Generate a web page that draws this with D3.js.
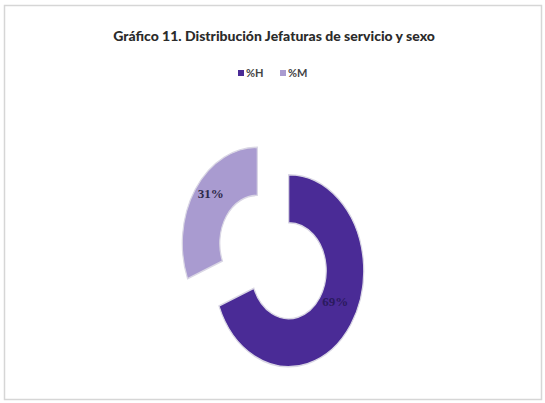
<!DOCTYPE html>
<html>
<head>
<meta charset="utf-8">
<script src="https://cdn.jsdelivr.net/npm/d3@7"></script>
<style>
  html, body { margin: 0; padding: 0; background: #fff; }
  svg { display: block; }
</style>
</head>
<body>
<svg id="chart" width="545" height="403"></svg>
<script>
// Chart data
const categories = ["%H", "%M"];
const values = [69, 31];
const labels = ["69%", "31%"];
const colors = ["#4a2b96", "#a99bd0"];

const title = "Gráfico 11. Distribución Jefaturas de servicio y sexo";

const svg = d3.select("#chart");

// Outer frame
svg.append("rect")
  .attr("x", 4.5).attr("y", 5.5)
  .attr("width", 537).attr("height", 394)
  .attr("fill", "#fff")
  .attr("stroke", "#d6d6d6")
  .attr("stroke-width", 1.5);

// Title
svg.append("text")
  .attr("x", 274).attr("y", 41)
  .attr("text-anchor", "middle")
  .attr("font-family", "Lato, 'Open Sans', sans-serif")
  .attr("font-weight", "900")
  .attr("font-size", 14)
  .attr("fill", "#2b2b2b")
  .text(title);

// Legend
const legend = svg.append("g").attr("transform", "translate(238,73)");
const legendX = [0, 42];
categories.forEach((c, i) => {
  const g = legend.append("g").attr("transform", `translate(${legendX[i]},0)`);
  g.append("rect")
    .attr("x", 0).attr("y", -3).attr("width", 6).attr("height", 6)
    .attr("fill", colors[i]);
  g.append("text")
    .attr("x", 8).attr("y", 4)
    .attr("font-family", "Lato, 'Open Sans', sans-serif")
    .attr("font-weight", "bold")
    .attr("font-size", 11)
    .attr("fill", "#444")
    .text(c);
});

// Exploded doughnut (drawn slightly taller than wide)
const rx = 75, sy = 1.28;
const cx = 273, cy = 257;
const explode = 19;

const pie = d3.pie().sort(null).value(d => d)(values);
const arc = d3.arc().innerRadius(rx * 0.5).outerRadius(rx);

const donut = svg.append("g")
  .attr("transform", `translate(${cx},${cy}) scale(1,${sy})`);

const slices = donut.selectAll("g.slice")
  .data(pie)
  .enter().append("g")
  .attr("class", "slice")
  .attr("transform", d => {
    const a = (d.startAngle + d.endAngle) / 2;
    return `translate(${explode * Math.sin(a)},${-explode * Math.cos(a)})`;
  });

slices.append("path")
  .attr("d", arc)
  .attr("fill", (d, i) => colors[i])
  .attr("stroke", "#d9d6e4")
  .attr("stroke-width", 1.2);

// Value labels at each slice's centroid
pie.forEach((d, i) => {
  const a = (d.startAngle + d.endAngle) / 2;
  const c = arc.centroid(d);
  const x = cx + explode * Math.sin(a) + c[0];
  const y = cy + (-explode * Math.cos(a) + c[1]) * sy;
  svg.append("text")
    .attr("x", x).attr("y", y - 8)
    .attr("text-anchor", "middle")
    .attr("dominant-baseline", "middle")
    .attr("font-family", "'Liberation Serif', serif")
    .attr("font-weight", "bold")
    .attr("font-size", 13)
    .attr("fill", i === 0 ? "#2a1a5e" : "#2e2a4a")
    .text(labels[i]);
});
</script>
</body>
</html>
